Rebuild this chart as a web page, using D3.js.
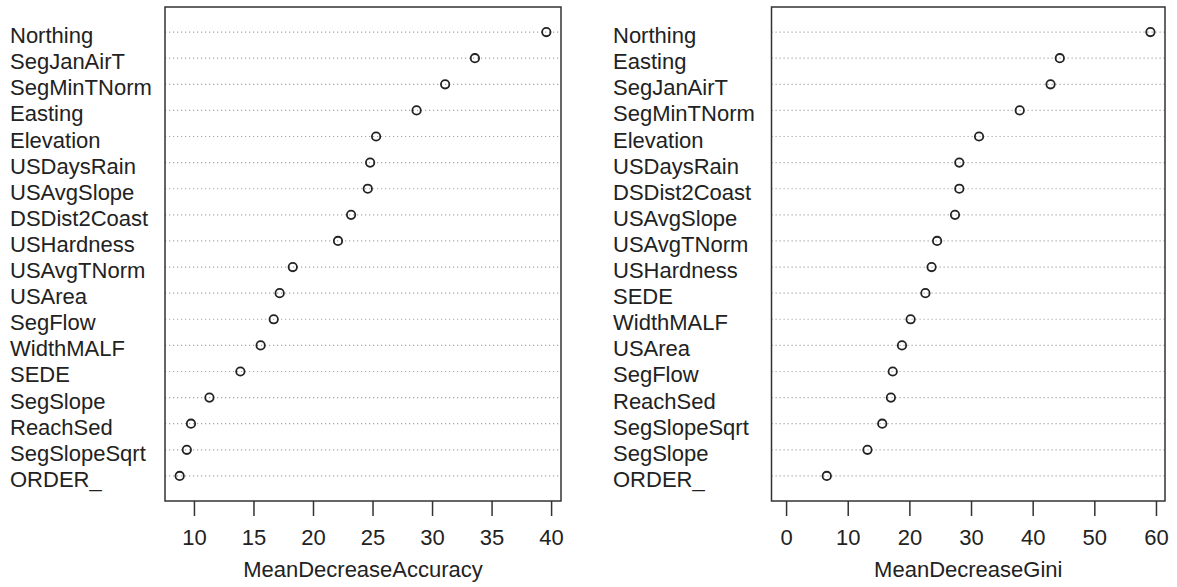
<!DOCTYPE html>
<html>
<head>
<meta charset="utf-8">
<script src="https://cdn.jsdelivr.net/npm/d3@7"></script>
<style>
  body { margin: 0; background: #fff; }
  svg text { font-family: "Liberation Sans", Arial, sans-serif; fill: #222; }
  .row-line { stroke: #a8a8a8; stroke-width: 1.2; stroke-dasharray: 1.2 2.8; }
  .pt { fill: none; stroke: #222; stroke-width: 1.8; }
  .frame { fill: none; stroke: #333; stroke-width: 1.5; }
</style>
</head>
<body>
<svg width="1177" height="587"></svg>
<script>
  // variable names, ordered top to bottom, with importance values
  const accVars = ['Northing', 'SegJanAirT', 'SegMinTNorm', 'Easting', 'Elevation', 'USDaysRain',
    'USAvgSlope', 'DSDist2Coast', 'USHardness', 'USAvgTNorm', 'USArea', 'SegFlow', 'WidthMALF',
    'SEDE', 'SegSlope', 'ReachSed', 'SegSlopeSqrt', 'ORDER_'];
  const accValues = [39.6, 33.6, 31.1, 28.7, 25.3, 24.8, 24.6, 23.2, 22.1, 18.3, 17.2, 16.7, 15.6,
    13.9, 11.3, 9.75, 9.4, 8.8];
  const accTicks = [10, 15, 20, 25, 30, 35, 40];

  const giniVars = ['Northing', 'Easting', 'SegJanAirT', 'SegMinTNorm', 'Elevation', 'USDaysRain',
    'DSDist2Coast', 'USAvgSlope', 'USAvgTNorm', 'USHardness', 'SEDE', 'WidthMALF', 'USArea',
    'SegFlow', 'ReachSed', 'SegSlopeSqrt', 'SegSlope', 'ORDER_'];
  const giniValues = [59.1, 44.4, 42.9, 37.9, 31.3, 28.1, 28.1, 27.4, 24.5, 23.6, 22.6, 20.2, 18.8,
    17.3, 17.0, 15.6, 13.2, 6.6];
  const giniTicks = [0, 10, 20, 30, 40, 50, 60];

  const svg = d3.select('svg');

  function dotPanel(opts) {
    const { vars, values, ticks, title, labelX, left, right, top, bottom, zeroBased } = opts;
    const g = svg.append('g');

    // R style limits: data range (from 0 for Gini) padded by 4 %
    const lo = zeroBased ? 0 : d3.min(values);
    const hi = d3.max(values);
    const pad = (hi - lo) * 0.04;
    const x = d3.scaleLinear().domain([lo - pad, hi + pad]).range([left, right]);
    const y = d3.scalePoint().domain(vars).range([top, bottom]).padding(0.96);

    g.selectAll('line.row-line')
      .data(vars)
      .enter()
      .append('line')
      .attr('class', 'row-line')
      .attr('x1', left)
      .attr('x2', right)
      .attr('y1', d => y(d))
      .attr('y2', d => y(d));

    g.selectAll('text.lab')
      .data(vars)
      .enter()
      .append('text')
      .attr('class', 'lab')
      .attr('x', labelX)
      .attr('y', d => y(d) + 11)
      .attr('font-size', 22)
      .text(d => d);

    g.selectAll('circle')
      .data(values)
      .enter()
      .append('circle')
      .attr('class', 'pt')
      .attr('cx', d => x(d))
      .attr('cy', (d, i) => y(vars[i]))
      .attr('r', 4.2);

    g.append('rect')
      .attr('class', 'frame')
      .attr('x', left)
      .attr('y', top)
      .attr('width', right - left)
      .attr('height', bottom - top);

    const axis = g.append('g')
      .attr('transform', `translate(0,${bottom})`)
      .call(d3.axisBottom(x).tickValues(ticks).tickSize(15).tickPadding(13).tickFormat(d3.format('d')));
    axis.select('.domain').remove();
    axis.selectAll('.tick line').attr('stroke', '#333').attr('stroke-width', 1.5);
    axis.selectAll('.tick text')
      .attr('font-size', 22)
      .attr('font-family', '"Liberation Sans", Arial, sans-serif')
      .attr('fill', '#222');

    g.append('text')
      .attr('x', (left + right) / 2)
      .attr('y', 577)
      .attr('text-anchor', 'middle')
      .attr('font-size', 22)
      .text(title);
  }

  dotPanel({
    vars: accVars, values: accValues, ticks: accTicks, title: 'MeanDecreaseAccuracy',
    labelX: 10, left: 165, right: 561, top: 7, bottom: 501, zeroBased: false
  });

  dotPanel({
    vars: giniVars, values: giniValues, ticks: giniTicks, title: 'MeanDecreaseGini',
    labelX: 613, left: 771.5, right: 1165, top: 7, bottom: 501, zeroBased: true
  });
</script>
</body>
</html>
